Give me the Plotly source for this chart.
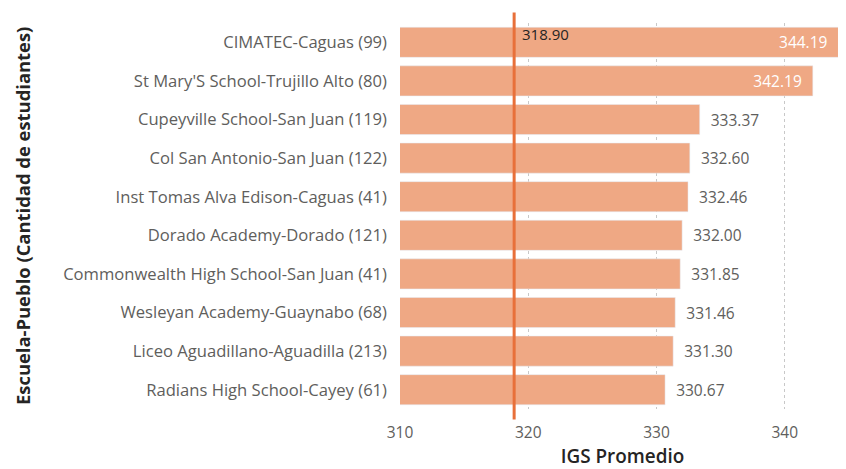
import plotly.graph_objects as go

# datos
escuelas = [
    "CIMATEC-Caguas (99)",
    "St Mary'S School-Trujillo Alto (80)",
    "Cupeyville School-San Juan (119)",
    "Col San Antonio-San Juan (122)",
    "Inst Tomas Alva Edison-Caguas (41)",
    "Dorado Academy-Dorado (121)",
    "Commonwealth High School-San Juan (41)",
    "Wesleyan Academy-Guaynabo (68)",
    "Liceo Aguadillano-Aguadilla (213)",
    "Radians High School-Cayey (61)",
]
igs = [344.19, 342.19, 333.37, 332.60, 332.46, 332.00, 331.85, 331.46, 331.30, 330.67]
promedio = 318.90
ticks_x = [310, 320, 330, 340]

BAR = "#EFA884"
LINEA = "#E8703A"
GRIS = "#605E5C"
OSCURO = "#252423"
FUENTE = "Open Sans"

# las barras largas llevan la etiqueta dentro, en blanco
dentro = [v > 340 for v in igs]
pos = ["inside" if d else "outside" for d in dentro]
colores_txt = ["white" if d else GRIS for d in dentro]
sp = "\u00a0\u00a0"
etiquetas = [f"{v:.2f}{sp}" if d else f"{sp}{v:.2f}" for v, d in zip(igs, dentro)]

fig = go.Figure()
fig.add_trace(go.Bar(
    x=igs, y=escuelas, orientation="h",
    marker_color=BAR,
    text=etiquetas,
    textposition=pos,
    insidetextanchor="end",
    textfont=dict(color=colores_txt, size=15.5, family=FUENTE),
    cliponaxis=False,
))

# línea de promedio
fig.add_shape(type="line", xref="x", yref="paper",
              x0=promedio, x1=promedio, y0=-0.027, y1=1.027,
              line=dict(color=LINEA, width=3))
fig.add_annotation(x=promedio, y=1.0, xref="x", yref="paper",
                   text=f"{promedio:.2f}", showarrow=False,
                   xanchor="left", yanchor="top", xshift=6, yshift=1,
                   font=dict(color=OSCURO, size=15, family=FUENTE))

# título eje y
fig.add_annotation(x=0, y=0.5, xref="paper", yref="paper",
                   xanchor="center", yanchor="middle", xshift=-378,
                   text="<b>Escuela-Pueblo (Cantidad de estudiantes)</b>",
                   textangle=-90, showarrow=False,
                   font=dict(size=18.4, color=OSCURO, family=FUENTE))

# el body de la página tiene 8px de margen: se compensa aquí
fig.update_layout(
    width=846, height=469,
    margin=dict(l=392, r=9, t=15, b=68, autoexpand=False),
    plot_bgcolor="white", paper_bgcolor="white",
    bargap=0.22,
    showlegend=False,
    font=dict(family=FUENTE, color=GRIS),
)
fig.update_xaxes(
    range=[310, 344.7], tickvals=ticks_x,
    showgrid=True, gridcolor="#C8C8C8", griddash="dot", gridwidth=1,
    zeroline=False, showline=False, automargin=False,
    ticks="outside", ticklen=9, tickcolor="rgba(0,0,0,0)",
    tickfont=dict(size=15.5, color=GRIS),
    title=dict(text="IGS Promedio", standoff=5,
               font=dict(size=18.9, color=OSCURO, family=FUENTE, weight=600)),
)
fig.update_yaxes(
    categoryorder="array", categoryarray=escuelas[::-1],
    showgrid=False, zeroline=False, automargin=False,
    tickfont=dict(size=16.6, color=GRIS), ticklabelstandoff=12,
)

fig.write_html("out.html")
